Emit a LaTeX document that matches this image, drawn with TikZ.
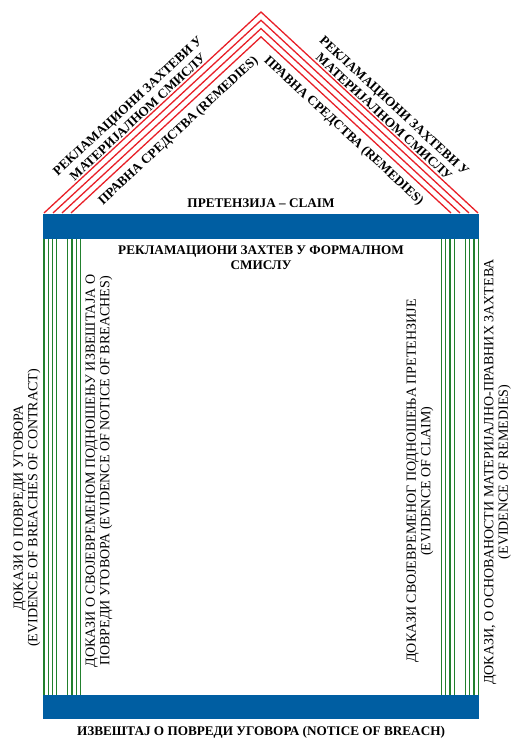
\documentclass[tikz,border=0pt]{standalone}
\usepackage{fontspec}
\setmainfont{Liberation Serif}
\usetikzlibrary{positioning}

\definecolor{roofred}{RGB}{232,32,40}
\definecolor{barblue}{RGB}{0,94,162}
\definecolor{pillargreen}{RGB}{34,128,46}

\begin{document}
\begin{tikzpicture}[
    x=1pt, y=-1pt,
    roofline/.style={roofred, line width=1.3pt},
    pillarline/.style={pillargreen, line width=1.3pt},
    beam/.style={fill=barblue, draw=none},
    roofcap/.style={font=\bfseries\fontsize{13.2}{15}\selectfont, align=center, inner sep=0pt},
    beamcap/.style={font=\bfseries\fontsize{13.2}{15}\selectfont, align=center, inner sep=0pt},
    pillarcap/.style={font=\fontsize{14}{14.5}\selectfont, align=center, inner sep=0pt, rotate=90}
    ]

    \useasboundingbox (0,0) rectangle (514,738);

    % Roof: four nested red lines
    \foreach \i in {0,...,3}
      \draw[roofline] (44+9*\i,213) -- (261,12+8.3*\i) -- (478-9*\i,213);

    % Beams
    \fill[beam] (43,214) rectangle (479,239);
    \fill[beam] (43,695) rectangle (479,719);

    % Pillars: two groups of four lines on each side
    \foreach \g in {44,67.8,441.6,465.6}
      \foreach \k in {0,...,3}
        \draw[pillarline] (\g+4.2*\k,239) -- (\g+4.2*\k,695);

    % Roof labels
    \node[roofcap, rotate=42.8] (leftmat) at (132.7,111.4) {РЕКЛАМАЦИОНИ ЗАХТЕВИ У\\МАТЕРИЈАЛНОМ СМИСЛУ};
    \node[roofcap, rotate=-42.8] (rightmat) at (389.3,111.4) {РЕКЛАМАЦИОНИ ЗАХТЕВИ У\\МАТЕРИЈАЛНОМ СМИСЛУ};
    \node[roofcap, rotate=42.8] (leftrem) at (178.6,131) {ПРАВНА СРЕДСТВА (REMEDIES)};
    \node[roofcap, rotate=-42.8] (rightrem) at (343.4,131) {ПРАВНА СРЕДСТВА (REMEDIES)};

    % Beam labels
    \node[beamcap] (claim) at (261,203) {ПРЕТЕНЗИЈА – CLAIM};
    \node[beamcap] (formal) at (261,257.5) {РЕКЛАМАЦИОНИ ЗАХТЕВ У ФОРМАЛНОМ\\СМИСЛУ};
    \node[beamcap] (notice) at (261,732) {ИЗВЕШТАЈ О ПОВРЕДИ УГОВОРА (NOTICE OF BREACH)};

    % Pillar labels
    \node[pillarcap] (breachev) at (27,508) {ДОКАЗИ О ПОВРЕДИ УГОВОРА\\(EVIDENCE OF BREACHES OF CONTRACT)};
    \node[pillarcap] (noticeev) at (99,471) {ДОКАЗИ О СВОЈЕВРЕМЕНОМ ПОДНОШЕЊУ ИЗВЕШТАЈА О\\ПОВРЕДИ УГОВОРА (EVIDENCE OF NOTICE OF BREACHES)};
    \node[pillarcap] (claimev) at (420,481) {ДОКАЗИ СВОЈЕВРЕМЕНОГ ПОДНОШЕЊА ПРЕТЕНЗИЈЕ\\(EVIDENCE OF CLAIM)};
    \node[pillarcap] (remedyev) at (497.5,472) {ДОКАЗИ, О ОСНОВАНОСТИ МАТЕРИЈАЛНО-ПРАВНИХ ЗАХТЕВА\\(EVIDENCE OF REMEDIES)};

\end{tikzpicture}
\end{document}
